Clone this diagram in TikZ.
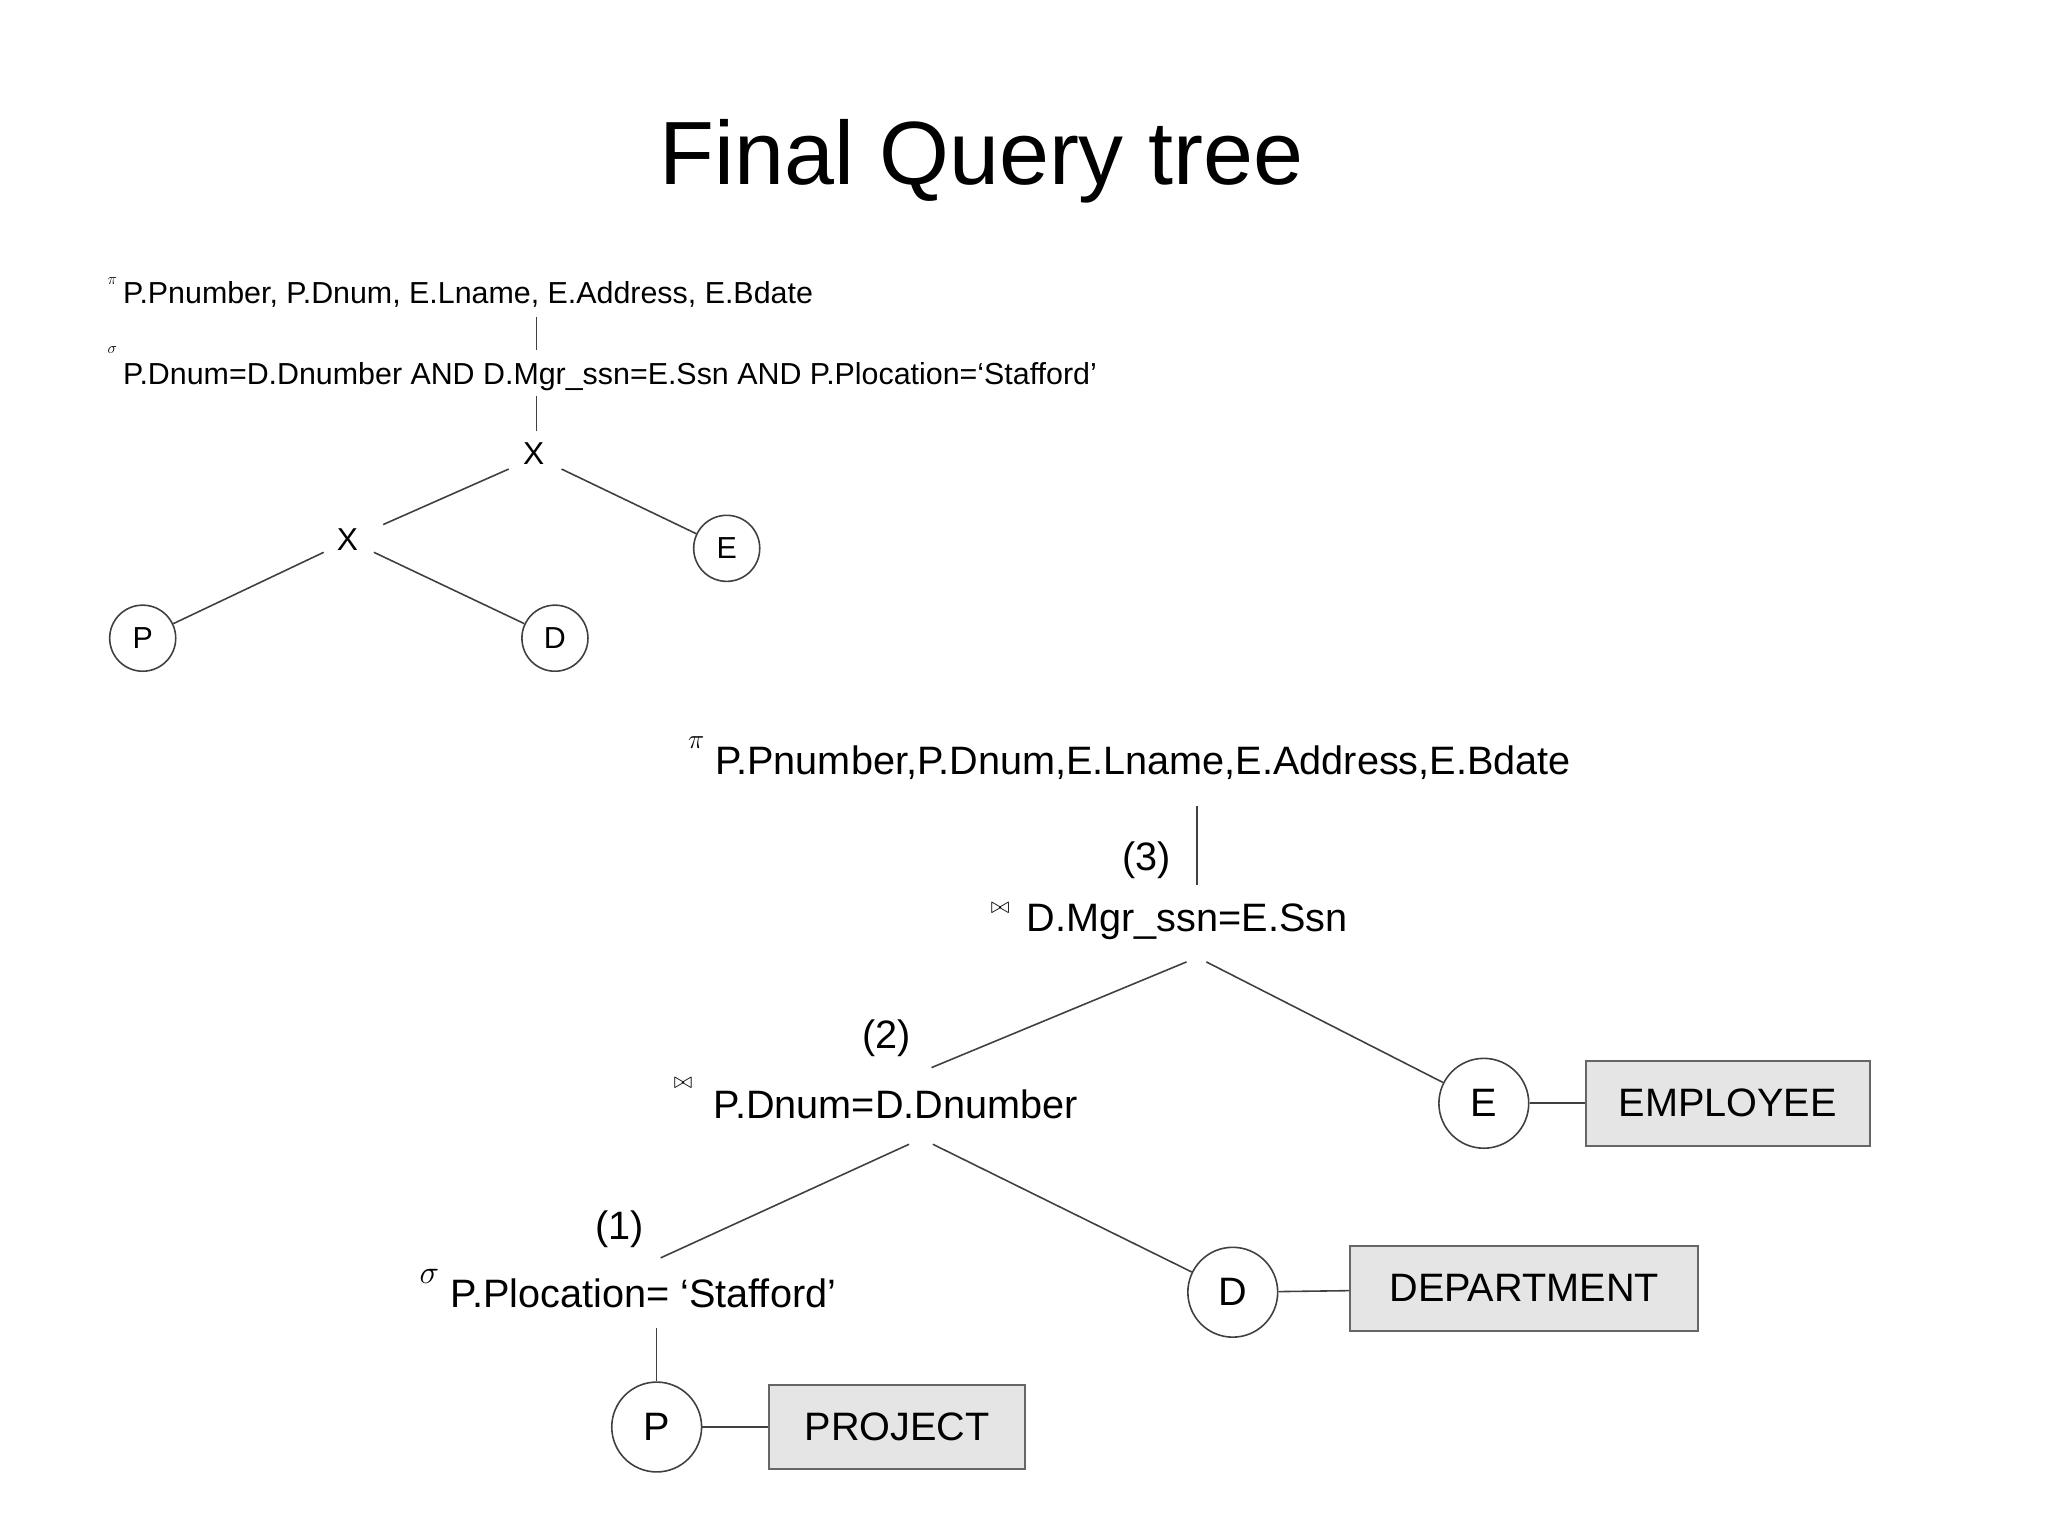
\documentclass[tikz,border=0pt]{standalone}
\usepackage{fontspec}
\setmainfont{Liberation Sans}
\begin{document}
\begin{tikzpicture}[x=1pt,y=-1pt,
  ln/.style={draw=black!75,line width=1.2pt},
  sm/.style={font=\fontsize{23}{26}\selectfont,inner sep=0pt,anchor=west},
  bg/.style={font=\fontsize{30}{34}\selectfont,inner sep=0pt,anchor=west},
  sc/.style={circle,draw=black!75,line width=1.2pt,minimum size=50pt,inner sep=0pt,font=\fontsize{23}{26}\selectfont},
  lc/.style={circle,draw=black!75,line width=1.2pt,minimum size=68pt,inner sep=0pt,font=\fontsize{30}{34}\selectfont},
  bx/.style={draw=black!60,line width=1.5pt,fill=black!10,inner sep=0pt,font=\fontsize{30}{34}\selectfont},
  op/.style={inner sep=1pt,font=\fontsize{24}{26}\selectfont}]
\useasboundingbox (0,0) rectangle (1550,1162);
\node[font=\fontsize{68}{72}\selectfont] (title) at (743,122) {Final Query tree};
% top tree
\node[font=\fontsize{13}{14}\selectfont,inner sep=0pt] (pi1) at (85,213) {$\pi$};
\node[sm] (t1) at (93,223) {P.Pnumber, P.Dnum, E.Lname, E.Address, E.Bdate};
\node[font=\fontsize{13}{14}\selectfont,inner sep=0pt] (s1) at (85,265) {$\sigma$};
\node[sm] (t2) at (93,285) {P.Dnum=D.Dnumber AND D.Mgr\_ssn=E.Ssn AND P.Plocation=‘Stafford’};
\coordinate (a1) at (406,240); \coordinate (a2) at (406,265);
\coordinate (a3) at (406,300); \coordinate (a4) at (406,326);
\draw[ln] (a1) -- (a2); \draw[ln] (a3) -- (a4);
\node[op] (x1) at (404,343) {X};
\node[op] (x2) at (263,408) {X};
\node[sc] (P1) at (108,483) {P};
\node[sc] (D1) at (420,483) {D};
\node[sc] (E1) at (550,415) {E};
\coordinate (b1) at (385,355); \coordinate (b2) at (290,397);
\coordinate (b3) at (425,355); \coordinate (b4) at (245,418);
\coordinate (b5) at (283,418);
\draw[ln] (b1) -- (b2); \draw[ln] (b3) -- (E1); \draw[ln] (b4) -- (P1); \draw[ln] (b5) -- (D1);
% bottom tree
\node[font=\fontsize{20}{22}\selectfont,inner sep=0pt] (pi2) at (527,562) {$\pi$};
\node[bg] (u1) at (541,577) {P.Pnumber,P.Dnum,E.Lname,E.Address,E.Bdate};
\coordinate (c1) at (906,610); \coordinate (c2) at (906,670);
\draw[ln] (c1) -- (c2);
\node[bg,anchor=center] (n3) at (868,651) {(3)};
\node[font=\fontsize{16}{18}\selectfont,inner sep=0pt] (j2) at (757,687) {$\bowtie$};
\node[bg] (u2) at (777,698) {D.Mgr\_ssn=E.Ssn};
\node[bg,anchor=center] (n2) at (671,786) {(2)};
\node[font=\fontsize{16}{18}\selectfont,inner sep=0pt] (j1) at (517,820) {$\bowtie$};
\node[bg] (u3) at (540,836) {P.Dnum=D.Dnumber};
\node[bg,anchor=center] (n1) at (469,930) {(1)};
\node[font=\fontsize{24}{26}\selectfont,inner sep=0pt] (s2) at (325,966) {$\sigma$};
\node[bg] (u4) at (341,979) {P.Plocation= ‘Stafford’};
\node[lc] (E2) at (1123,835) {E};
\node[lc] (D2) at (933,978) {D};
\node[lc] (P2) at (497,1080) {P};
\node[bx,minimum width=215pt,minimum height=64pt] (EMP) at (1307.5,835) {EMPLOYEE};
\node[bx,minimum width=263pt,minimum height=64pt] (DEP) at (1153.5,975) {DEPARTMENT};
\node[bx,minimum width=194pt,minimum height=64pt] (PRO) at (679,1080) {PROJECT};
\coordinate (d1) at (898,728); \coordinate (d2) at (705,808);
\coordinate (d3) at (913,728);
\coordinate (d4) at (688,866); \coordinate (d5) at (500,952);
\coordinate (d6) at (706,866);
\coordinate (d7) at (497,1005);
\draw[ln] (d1) -- (d2); \draw[ln] (d3) -- (E2);
\draw[ln] (d4) -- (d5); \draw[ln] (d6) -- (D2);
\draw[ln] (d7) -- (P2);
\draw[ln] (E2) -- (EMP); \draw[ln] (D2) -- (DEP); \draw[ln] (P2) -- (PRO);
\end{tikzpicture}
\end{document}
